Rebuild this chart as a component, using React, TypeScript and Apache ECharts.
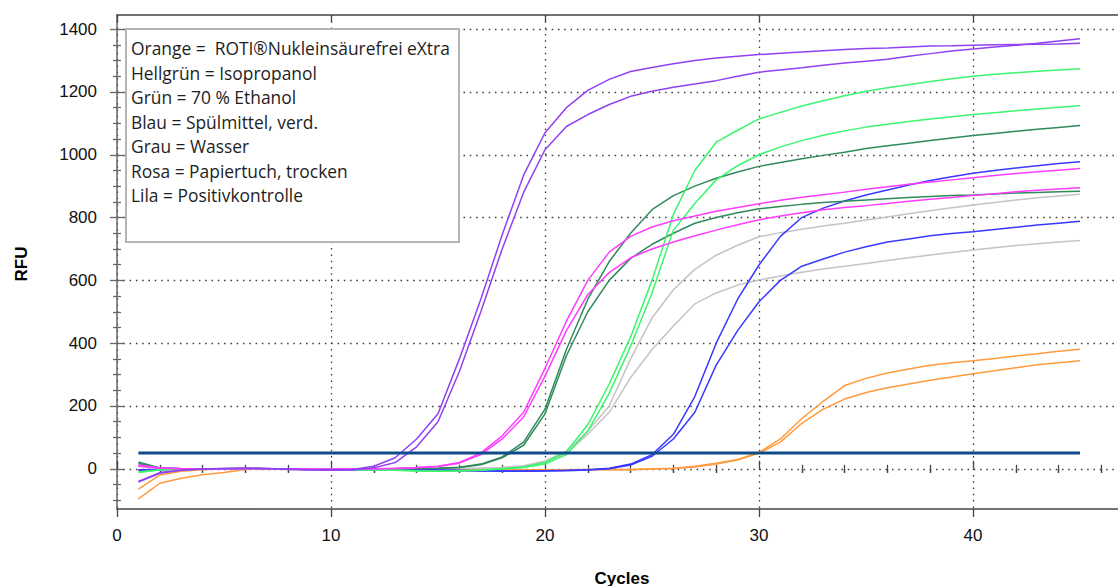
import React, { useEffect, useRef } from "react";
import * as echarts from "echarts";

const cycles = [
  1, 2, 3, 4, 5, 6, 7, 8, 9, 10, 11, 12, 13, 14, 15, 16, 17, 18, 19, 20, 21, 22, 23,
  24, 25, 26, 27, 28, 29, 30, 31, 32, 33, 34, 35, 36, 37, 38, 39, 40, 41, 42, 43, 44, 45,
];

const lilaA = [
  -40, -12, -4, -1, 1, 2, 1, -1, -3, -4, -2, 8,
  35, 95, 175, 350, 540, 745, 935, 1070, 1150, 1205, 1240, 1265,
  1278, 1290, 1300, 1308, 1314, 1319, 1323, 1327, 1331, 1335, 1338, 1340,
  1343, 1346, 1347, 1349, 1350, 1351, 1352, 1353, 1355,
];
const lilaB = [
  -42, -14, -5, -1, 1, 2, 1, -2, -4, -5, -4, 3,
  20, 70, 150, 310, 500, 700, 880, 1016, 1090, 1128, 1160, 1186,
  1202, 1215, 1225, 1236, 1250, 1263, 1270, 1277, 1285, 1292, 1298, 1304,
  1314, 1322, 1330, 1337, 1343, 1349, 1355, 1362, 1369,
];
const rosaA = [
  12, 3, 1, 0, 0, 1, 0, 0, -1, -1, 0, 0,
  2, 4, 8, 20, 50, 105, 180, 320, 470, 600, 690, 740,
  770, 790, 805, 820, 832, 844, 855, 865, 873, 881, 890, 898,
  906, 913, 920, 927, 934, 940, 946, 951, 956,
];
const rosaB = [
  8, 2, 0, 0, 0, 0, 0, -1, -1, -2, -1, 0,
  1, 3, 7, 18, 45, 95, 165, 295, 440, 555, 625, 672,
  700, 722, 742, 760, 777, 793, 805, 815, 825, 832, 838, 845,
  852, 858, 864, 870, 876, 882, 887, 891, 895,
];
const gruenA = [
  22, 3, 0, 0, 0, 0, 0, -1, -1, -2, -1, 0,
  0, 1, 2, 5, 15, 38, 85, 190, 380, 540, 660, 750,
  825, 870, 900, 925, 945, 963, 975, 987, 998, 1008, 1020, 1029,
  1037, 1045, 1053, 1061, 1068, 1075, 1081, 1087, 1093,
];
const gruenB = [
  18, 2, 0, 0, 0, 0, 0, -1, -1, -2, -1, 0,
  0, 1, 2, 4, 13, 35, 75, 175, 360, 500, 600, 670,
  715, 750, 782, 800, 815, 828, 835, 842, 848, 852, 856, 860,
  864, 867, 870, 872, 875, 878, 880, 882, 884,
];
const hellgruenA = [
  -10, -3, -1, 0, 0, 1, 0, 0, -1, -2, -2, -3,
  -4, -6, -7, -6, -4, 0, 6, 20, 55, 140, 270, 420,
  600, 810, 950, 1040, 1078, 1114, 1135, 1155, 1172, 1188, 1202, 1213,
  1223, 1233, 1242, 1250, 1256, 1261, 1266, 1270, 1274,
];
const hellgruenB = [
  -12, -4, -1, 0, 0, 1, 0, 0, -1, -2, -3, -4,
  -5, -7, -8, -7, -5, -1, 4, 15, 45, 120, 240, 390,
  560, 760, 845, 920, 965, 1000, 1025, 1045, 1062, 1076, 1088, 1097,
  1106, 1114, 1121, 1128, 1134, 1140, 1146, 1151, 1156,
];
const grauA = [
  15, 2, 0, 0, 0, 0, 0, 0, -1, -1, 0, 0,
  0, 0, 0, 1, 2, 4, 10, 25, 55, 120, 200, 350,
  480, 570, 635, 680, 712, 739, 752, 763, 773, 782, 792, 802,
  812, 822, 831, 840, 848, 856, 863, 869, 874,
];
const grauB = [
  10, 1, 0, 0, 0, 0, 0, 0, -1, -1, 0, 0,
  0, 0, 0, 1, 2, 3, 8, 20, 50, 110, 180, 290,
  380, 455, 525, 560, 585, 601, 614, 626, 636, 645, 654, 663,
  672, 681, 689, 697, 704, 711, 717, 722, 727,
];
const blauA = [
  -3, -2, -1, 0, 0, 0, 0, 0, -1, -1, -2, -2,
  -3, -3, -4, -5, -6, -7, -7, -6, -5, -3, 2, 15,
  45, 110, 230, 400, 540, 649, 740, 800, 830, 853, 872, 888,
  904, 918, 930, 941, 950, 958, 965, 972, 978,
];
const blauB = [
  -5, -3, -1, 0, 0, 0, 0, 0, -1, -1, -2, -3,
  -4, -4, -5, -6, -7, -8, -8, -7, -6, -4, 0, 12,
  40, 95, 180, 330, 440, 532, 600, 645, 668, 690, 707, 722,
  732, 742, 749, 755, 762, 769, 776, 782, 788,
];
const orangeA = [
  -65, -20, -8, -3, 0, 1, 0, 0, -1, -1, -1, -1,
  -1, -2, -2, -2, -3, -3, -3, -3, -3, -2, -2, -2,
  0, 2, 8, 18, 30, 52, 95, 160, 215, 265, 288, 305,
  318, 330, 338, 344, 351, 359, 366, 374, 381,
];
const orangeB = [
  -96, -46, -30, -19, -12, -2, 0, 0, -1, -1, -1, -1,
  -1, -2, -2, -2, -3, -3, -4, -4, -4, -3, -3, -3,
  -1, 1, 6, 15, 28, 50, 85, 145, 190, 222, 243, 258,
  270, 282, 292, 303, 312, 322, 331, 338, 344,
];

const thresholdValue = 50;
const thresholdRange = [1, 45];

const xMajorTicks = [0, 10, 20, 30, 40];
const xMinorTicks = [2, 4, 6, 8, 12, 14, 16, 18, 22, 24, 26, 28, 32, 34, 36, 38, 42, 44, 46];
const yMajorTicks = [0, 200, 400, 600, 800, 1000, 1200, 1400];
const yMinorTicks = [
  -100, -50, 50, 100, 150, 250, 300, 350, 450, 500, 550, 650, 700, 750, 850, 900, 950,
  1050, 1100, 1150, 1250, 1300, 1350,
];

const legendLines = [
  "Orange =  ROTI®Nukleinsäurefrei eXtra",
  "Hellgrün = Isopropanol",
  "Grün = 70 % Ethanol",
  "Blau = Spülmittel, verd.",
  "Grau = Wasser",
  "Rosa = Papiertuch, trocken",
  "Lila = Positivkontrolle",
];

const curves = [
  { name: "Orange A", color: "#ff9a3c", values: orangeA },
  { name: "Orange B", color: "#ff9a3c", values: orangeB },
  { name: "Grau A", color: "#c4c4c4", values: grauA },
  { name: "Grau B", color: "#c4c4c4", values: grauB },
  { name: "Blau A", color: "#3838ff", values: blauA },
  { name: "Blau B", color: "#3838ff", values: blauB },
  { name: "Grün A", color: "#2f8a5c", values: gruenA },
  { name: "Grün B", color: "#2f8a5c", values: gruenB },
  { name: "Hellgrün A", color: "#3cf56e", values: hellgruenA },
  { name: "Hellgrün B", color: "#3cf56e", values: hellgruenB },
  { name: "Rosa A", color: "#ff3cff", values: rosaA },
  { name: "Rosa B", color: "#ff3cff", values: rosaB },
  { name: "Lila A", color: "#9140f2", values: lilaA },
  { name: "Lila B", color: "#9140f2", values: lilaB },
];

const AXIS_COLOR = "#444";
const GRID_STYLE = { color: "#3a3a3a", width: 1.3, type: [1.5, 4.8] as any };
const FONT = "Liberation Sans";

function tickAxisX(position: string, values: number[], length: number, inside: boolean) {
  return {
    type: "value",
    min: 0,
    max: 47,
    position,
    gridIndex: 0,
    axisLine: { show: false },
    axisTick: { show: true, customValues: values, length, inside, lineStyle: { color: AXIS_COLOR, width: 1.3 } },
    axisLabel: { show: false },
    splitLine: { show: false },
  };
}
function tickAxisY(values: number[], length: number, inside: boolean) {
  return {
    type: "value",
    min: -128,
    max: 1445,
    position: "left",
    gridIndex: 0,
    axisLine: { show: false },
    axisTick: { show: true, customValues: values, length, inside, lineStyle: { color: "#666", width: 1.3 } },
    axisLabel: { show: false },
    splitLine: { show: false },
  };
}

export default function App() {
  const ref = useRef<HTMLDivElement>(null);
  useEffect(() => {
    if (!ref.current) return;
    const chart = echarts.init(ref.current, null, { renderer: "svg" });
    const series: any[] = curves.map((c) => ({
      name: c.name,
      type: "line",
      xAxisIndex: 0,
      yAxisIndex: 0,
      symbol: "none",
      smooth: false,
      lineStyle: { color: c.color, width: 1.5 },
      data: cycles.map((x, i) => [x, c.values[i]]),
      z: 3,
    }));
    series.push({
      name: "Threshold",
      type: "line",
      xAxisIndex: 0,
      yAxisIndex: 0,
      symbol: "none",
      lineStyle: { color: "#0f4a8a", width: 3 },
      data: [
        [thresholdRange[0], thresholdValue],
        [thresholdRange[1], thresholdValue],
      ],
      z: 4,
    });

    const option: any = {
      animation: false,
      backgroundColor: "#ffffff",
      grid: { left: 117, top: 15, width: 47 * 21.4, height: 494 },
      xAxis: [
        {
          type: "value",
          min: 0,
          max: 47,
          position: "bottom",
          axisLine: { show: true, onZero: false, lineStyle: { color: AXIS_COLOR, width: 1.5 } },
          axisTick: { show: true, customValues: xMajorTicks, length: 8, lineStyle: { color: AXIS_COLOR, width: 1.3 } },
          axisLabel: {
            customValues: xMajorTicks,
            formatter: (v: number) => String(v),
            margin: 18,
            fontSize: 17,
            fontFamily: FONT,
            color: "#111",
          },
          splitLine: { show: true, lineStyle: GRID_STYLE },
        },
        tickAxisX("bottom", xMajorTicks, 8, true),
        tickAxisX("bottom", xMinorTicks, 4, false),
        tickAxisX("bottom", xMinorTicks, 4, true),
        {
          ...tickAxisX("top", xMajorTicks, 7, true),
          axisLine: { show: true, onZero: false, lineStyle: { color: AXIS_COLOR, width: 1.5 } },
        },
        tickAxisX("top", xMinorTicks, 4, true),
      ],
      yAxis: [
        {
          type: "value",
          min: -128,
          max: 1445,
          position: "left",
          axisLine: { show: true, onZero: false, lineStyle: { color: "#666", width: 1.5 } },
          axisTick: { show: true, customValues: yMajorTicks, length: 7, lineStyle: { color: "#666", width: 1.3 } },
          axisLabel: {
            customValues: yMajorTicks,
            formatter: (v: number) => String(v),
            margin: 20,
            fontSize: 17,
            fontFamily: FONT,
            color: "#111",
          },
          splitLine: { show: true, lineStyle: GRID_STYLE },
        },
        tickAxisY(yMajorTicks, 7, true),
        tickAxisY(yMinorTicks, 4, false),
        tickAxisY(yMinorTicks, 4, true),
      ],
      series,
      graphic: [
        {
          type: "rect",
          shape: { x: 126, y: 29, width: 333, height: 213 },
          style: { fill: "#ffffff", stroke: "#b4b4b4", lineWidth: 2 },
          z: 100,
        },
        ...legendLines.map((t, i) => ({
          type: "text",
          x: 131,
          y: 48 + i * 24.5,
          style: {
            text: t,
            fill: "#1e1e1e",
            fontSize: 17.4,
            fontFamily: "Open Sans",
            verticalAlign: "middle",
            align: "left",
          },
          z: 101,
        })),
        {
          type: "text",
          x: 21,
          y: 264,
          rotation: Math.PI / 2,
          style: {
            text: "RFU",
            fill: "#000",
            fontSize: 17,
            fontWeight: "bold",
            fontFamily: FONT,
            align: "center",
            verticalAlign: "middle",
          },
          z: 101,
        },
        {
          type: "text",
          x: 622,
          y: 578,
          style: {
            text: "Cycles",
            fill: "#000",
            fontSize: 17,
            fontWeight: "bold",
            fontFamily: FONT,
            align: "center",
            verticalAlign: "middle",
          },
          z: 101,
        },
      ],
    };
    chart.setOption(option);
    return () => chart.dispose();
  }, []);

  return (
    <div style={{ position: "fixed", left: 0, top: 0, width: 1118, height: 586, overflow: "hidden", background: "#fff" }}>
      <div ref={ref} style={{ width: 1140, height: 586 }} />
    </div>
  );
}
